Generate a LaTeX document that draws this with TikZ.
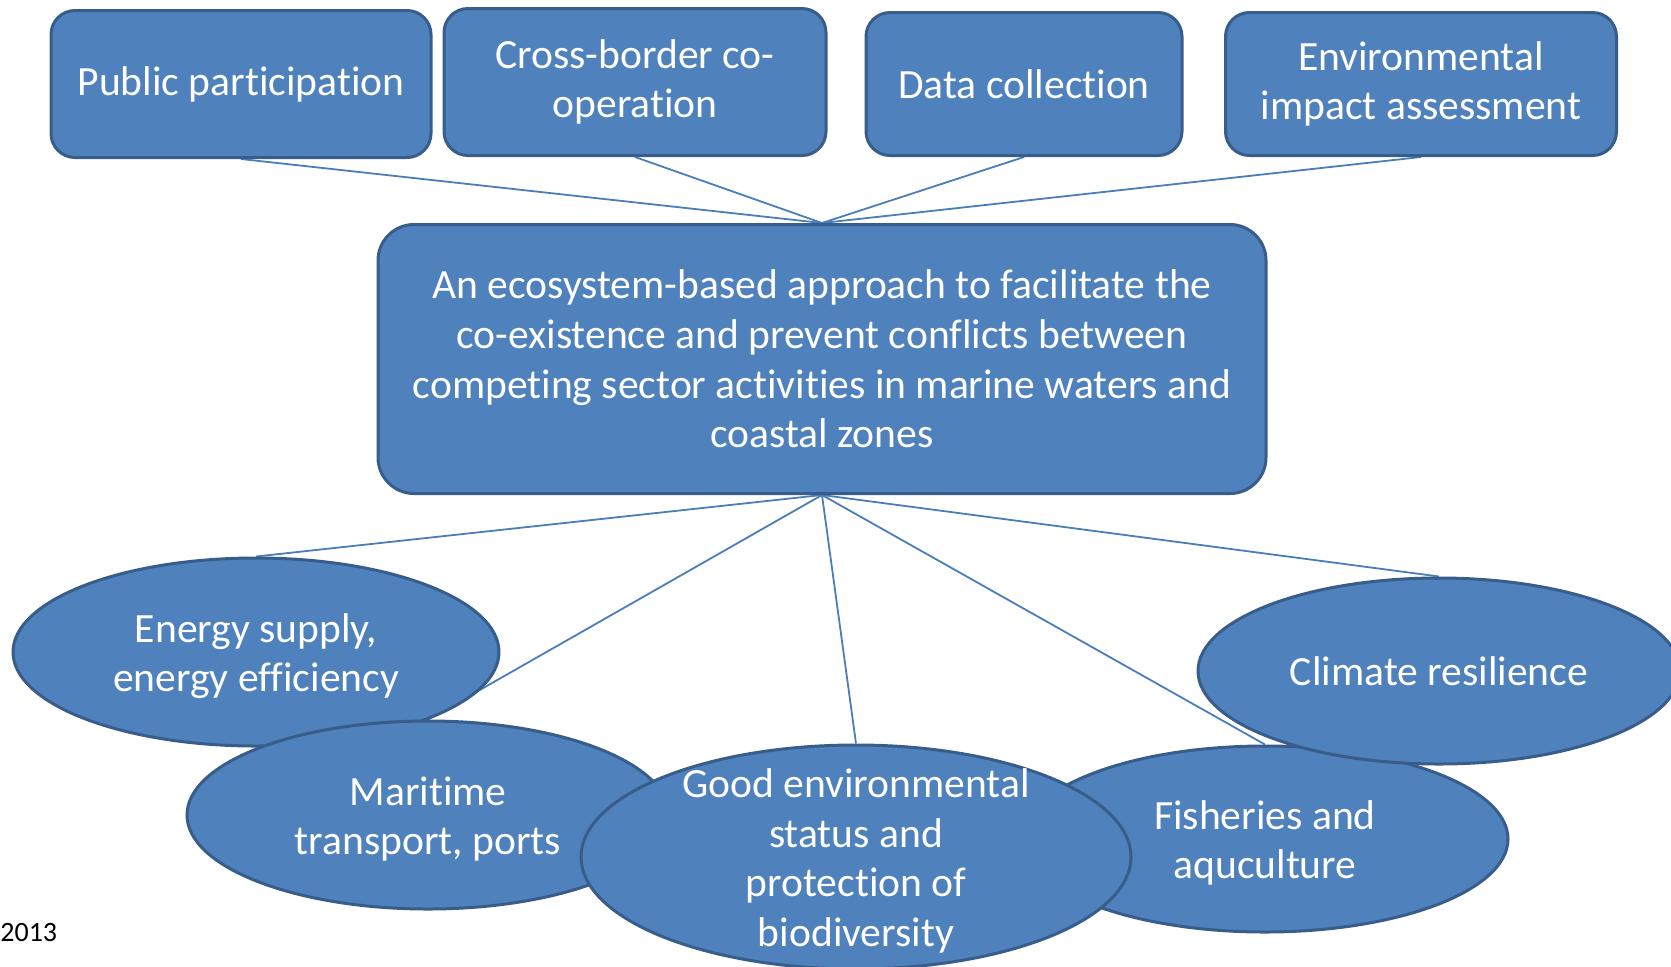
\documentclass[tikz,border=0pt]{standalone}
\usepackage{fontspec}
\setmainfont{Carlito}[Ligatures=NoCommon]
\usetikzlibrary{shapes.geometric,backgrounds}

\definecolor{boxblue}{HTML}{4F81BD}
\definecolor{boxedge}{HTML}{385D8A}
\definecolor{linkblue}{HTML}{4A7EBB}

\tikzset{
  topic/.style={draw=boxedge, line width=1.5pt, fill=boxblue, rounded corners=12pt,
    text=white, align=center, inner sep=0pt, font=\fontsize{20.8}{24.8}\selectfont},
  sector/.style={ellipse, draw=boxedge, line width=1.5pt, fill=boxblue, inner sep=0pt},
  sectortext/.style={text=white, align=center, inner sep=0pt, yshift=-2pt,
    font=\fontsize{20.8}{24.8}\selectfont},
  link/.style={draw=linkblue, line width=0.9pt}
}

\begin{document}
\begin{tikzpicture}[x=0.5pt, y=-0.5pt]

    \useasboundingbox (0,0) rectangle (1671,966);
    \clip (0,0) rectangle (1671,966);

    %Top row of tools
    \node[topic, minimum width=190pt, minimum height=73.5pt] (public) at (241,84) {Public participation};
    \node[topic, minimum width=191pt, minimum height=73.5pt] (crossborder) at (635,82) {Cross-border co-\\operation};
    \node[topic, minimum width=158pt, minimum height=71.5pt] (datacoll) at (1024,84) {Data collection};
    \node[topic, minimum width=195.5pt, minimum height=71.5pt] (eia) at (1421,84) {Environmental\\impact assessment};

    %Central approach
    \node[topic, minimum width=444pt, minimum height=134.5pt, rounded corners=18pt] (approach) at (822,359)
        {An ecosystem-based approach to facilitate the\\co-existence and prevent conflicts between\\competing sector activities in marine waters and\\coastal zones};

    %Sectors
    \node[sector, minimum width=243pt, minimum height=94pt] (energy) at (256,652) {};
    \node[sectortext] (energytext) at (energy) {Energy supply,\\energy efficiency};
    \node[sector, minimum width=241pt, minimum height=94pt] (maritime) at (428,815) {};
    \node[sectortext] (maritimetext) at (maritime) {Maritime\\transport, ports};
    \node[sector, minimum width=243pt, minimum height=93pt] (fisheries) at (1265,839) {};
    \node[sectortext] (fisheriestext) at (fisheries) {Fisheries and\\aquculture};
    \node[sector, minimum width=241pt, minimum height=93pt] (climate) at (1439,671) {};
    \node[sectortext, yshift=2pt] (climatetext) at (climate) {Climate resilience};
    \node[sector, minimum width=275pt, minimum height=112pt] (good) at (856,857) {};
    \node[sectortext] (goodtext) at (good) {Good environmental\\status and\\protection of\\biodiversity};

    \node[anchor=west, inner sep=0pt, font=\fontsize{14}{17}\selectfont] (year) at (0,932) {2013};

    %Links behind the shapes
    \begin{scope}[on background layer]
        \foreach \n in {public,crossborder,datacoll,eia}
        \draw[link] (\n.south) -- (approach.north);
        \foreach \n in {energy,maritime,good,fisheries,climate}
        \draw[link] (approach.south) -- (\n.north);
    \end{scope}

\end{tikzpicture}
\end{document}
